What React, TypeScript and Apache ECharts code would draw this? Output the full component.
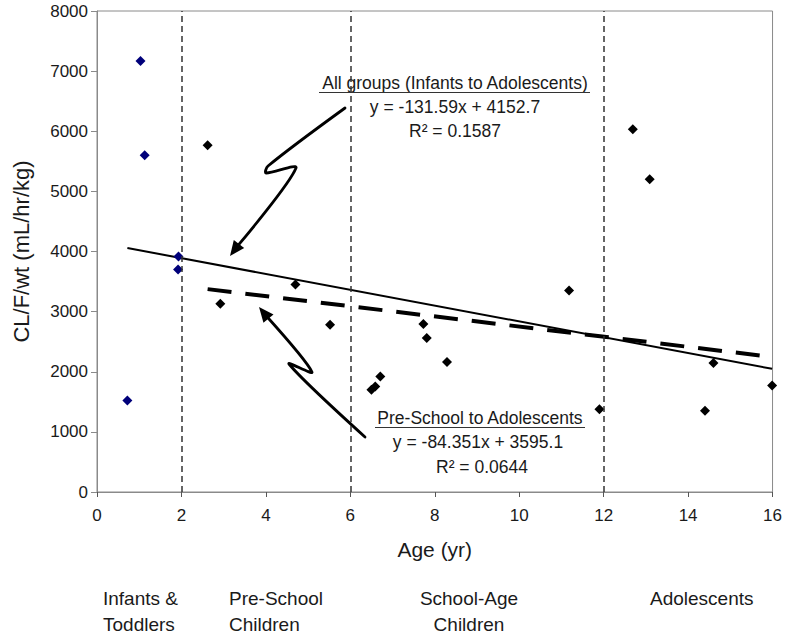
import React, { useEffect, useRef } from "react";
import * as echarts from "echarts";

// ---- data (age in years, CL/F/wt in mL/hr/kg) ----
const infantsToddlers: [number, number][] = [
  [0.72, 1522],
  [1.03, 7170],
  [1.13, 5600],
  [1.93, 3917],
  [1.92, 3700],
];
const olderChildren: [number, number][] = [
  [2.62, 5767],
  [2.92, 3133],
  [4.7, 3450],
  [5.52, 2783],
  [6.5, 1700],
  [6.59, 1755],
  [6.71, 1922],
  [7.73, 2795],
  [7.81, 2562],
  [8.29, 2162],
  [11.18, 3350],
  [11.9, 1378],
  [12.69, 6033],
  [13.09, 5200],
  [14.4, 1350],
  [14.6, 2145],
  [15.99, 1772],
];
const allSlope = -131.59;
const allIntercept = 4152.7;
const preSlope = -84.351;
const preIntercept = 3595.1;
const groupBoundaries = [2, 6, 12];
const groupLabels = ["Infants &\nToddlers", "Pre-School\nChildren", "School-Age\nChildren", "Adolescents"];
const allTitle = "All groups (Infants to Adolescents)";
const allEq = "y = -131.59x + 4152.7";
const allR2 = "R\u00B2 = 0.1587";
const preTitle = "Pre-School to Adolescents";
const preEq = "y = -84.351x + 3595.1";
const preR2 = "R\u00B2 = 0.0644";

const FONT = "'Liberation Sans', Arial, Helvetica, sans-serif";
const TXT = "#1a1a1a";

function arrow(points: number[][], tip: number[]) {
  const last = points[points.length - 1];
  const dx = tip[0] - last[0];
  const dy = tip[1] - last[1];
  const len = Math.hypot(dx, dy);
  const ux = dx / len;
  const uy = dy / len;
  const hl = 15;
  const hw = 6.5;
  const bx = tip[0] - ux * hl;
  const by = tip[1] - uy * hl;
  const shaftEnd = [tip[0] - ux * (hl - 3), tip[1] - uy * (hl - 3)];
  return [
    {
      type: "polyline",
      shape: { points: [...points, shaftEnd], smooth: 0.3 },
      style: { stroke: "#000", lineWidth: 2.8, fill: null, lineJoin: "round", lineCap: "round" },
    },
    {
      type: "polygon",
      shape: {
        points: [
          tip,
          [bx - uy * hw, by + ux * hw],
          [bx + uy * hw, by - ux * hw],
        ],
      },
      style: { fill: "#000" },
    },
  ];
}

function txt(text: string, x: number, y: number, size: number, align = "center", va = "middle", lh?: number) {
  return {
    type: "text",
    style: {
      text,
      x,
      y,
      fontSize: size,
      fontFamily: FONT,
      fill: TXT,
      align,
      verticalAlign: va,
      lineHeight: lh,
    },
  };
}

export default function App() {
  const ref = useRef<HTMLDivElement>(null);
  useEffect(() => {
    if (!ref.current) return;
    const chart = echarts.init(ref.current, null, { renderer: "svg" });
    const all = [...infantsToddlers, ...olderChildren];
    const minAll = Math.min(...all.map((d) => d[0]));
    const maxAll = Math.max(...all.map((d) => d[0]));
    const minPre = Math.min(...olderChildren.map((d) => d[0]));
    const allLine = [
      [minAll, allSlope * minAll + allIntercept],
      [maxAll, allSlope * maxAll + allIntercept],
    ];
    const preLine = [
      [minPre, preSlope * minPre + preIntercept],
      [maxAll, preSlope * maxAll + preIntercept],
    ];

    chart.setOption({
      animation: false,
      backgroundColor: "#fff",
      grid: {
        left: 97,
        right: 9,
        top: 11,
        bottom: 142,
        show: true,
        borderColor: "#8a8a8a",
        borderWidth: 1,
        backgroundColor: "transparent",
      },
      xAxis: {
        type: "value",
        min: 0,
        max: 16,
        interval: 2,
        name: "Age (yr)",
        nameLocation: "middle",
        nameGap: 57,
        nameTextStyle: { fontSize: 21, fontFamily: FONT, color: TXT, verticalAlign: "middle" },
        axisLine: { show: true, lineStyle: { color: "#8a8a8a", width: 1 } },
        axisTick: { show: true, length: 5, lineStyle: { color: "#555" } },
        axisLabel: { fontSize: 17, fontFamily: FONT, color: TXT, margin: 15, formatter: (v: number) => String(v) },
        splitLine: { show: false },
      },
      yAxis: {
        type: "value",
        min: 0,
        max: 8000,
        interval: 1000,
        name: "CL/F/wt (mL/hr/kg)",
        nameLocation: "middle",
        nameGap: 76,
        nameRotate: 90,
        nameTextStyle: { fontSize: 22, fontFamily: FONT, color: TXT, verticalAlign: "middle" },
        axisLine: { show: true, lineStyle: { color: "#8a8a8a", width: 1 } },
        axisTick: { show: true, length: 6, lineStyle: { color: "#8a8a8a" } },
        axisLabel: { fontSize: 17, fontFamily: FONT, color: TXT, margin: 9, formatter: (v: number) => String(v) },
        splitLine: { show: false },
      },
      series: [
        {
          name: "Group boundaries",
          type: "line",
          data: [],
          silent: true,
          markLine: {
            silent: true,
            symbol: "none",
            label: { show: false },
            lineStyle: { color: "#333", width: 1.5, type: [6, 4] },
            data: groupBoundaries.map((v) => ({ xAxis: v })),
          },
        },
        {
          name: "All groups trend",
          type: "line",
          data: allLine,
          showSymbol: false,
          symbol: "none",
          lineStyle: { color: "#000", width: 2 },
          z: 3,
        },
        {
          name: "Pre-School trend",
          type: "line",
          data: preLine,
          showSymbol: false,
          symbol: "none",
          lineStyle: { color: "#000", width: 4, type: [24, 14] },
          z: 3,
        },
        {
          name: "Infants & Toddlers",
          type: "scatter",
          data: infantsToddlers,
          symbol: "diamond",
          symbolSize: 10,
          itemStyle: { color: "#00007a", opacity: 1 },
          z: 4,
        },
        {
          name: "Pre-School to Adolescents",
          type: "scatter",
          data: olderChildren,
          symbol: "diamond",
          symbolSize: 10,
          itemStyle: { color: "#000", opacity: 1 },
          z: 4,
        },
      ],
      graphic: [
        txt(allTitle, 455, 83, 17.5),
        { type: "line", shape: { x1: 319, y1: 92.5, x2: 590, y2: 92.5 }, style: { stroke: "#333", lineWidth: 1 } },
        txt(allEq, 455, 107, 17.5),
        txt(allR2, 455, 131, 17.5),
        txt(preTitle, 480, 418, 17.5),
        { type: "line", shape: { x1: 375, y1: 427.5, x2: 585, y2: 427.5 }, style: { stroke: "#333", lineWidth: 1 } },
        txt(preEq, 478, 442, 17.5),
        txt(preR2, 482, 467, 17.5),
        ...arrow(
          [
            [345, 108],
            [268, 166],
            [266, 173],
            [296, 168],
          ],
          [230, 256]
        ),
        ...arrow(
          [
            [365, 437],
            [289, 364],
            [312, 372],
          ],
          [259, 307]
        ),
        txt(groupLabels[0], 103, 585, 19, "left", "top", 26),
        txt(groupLabels[1], 229, 585, 19, "left", "top", 26),
        txt(groupLabels[2], 469, 585, 19, "center", "top", 26),
        txt(groupLabels[3], 650, 585, 19, "left", "top", 26),
      ],
    });
    return () => chart.dispose();
  }, []);
  return (
    <div
      ref={ref}
      style={{ position: "absolute", left: 0, top: 0, width: 785, height: 634, background: "#fff" }}
    />
  );
}
